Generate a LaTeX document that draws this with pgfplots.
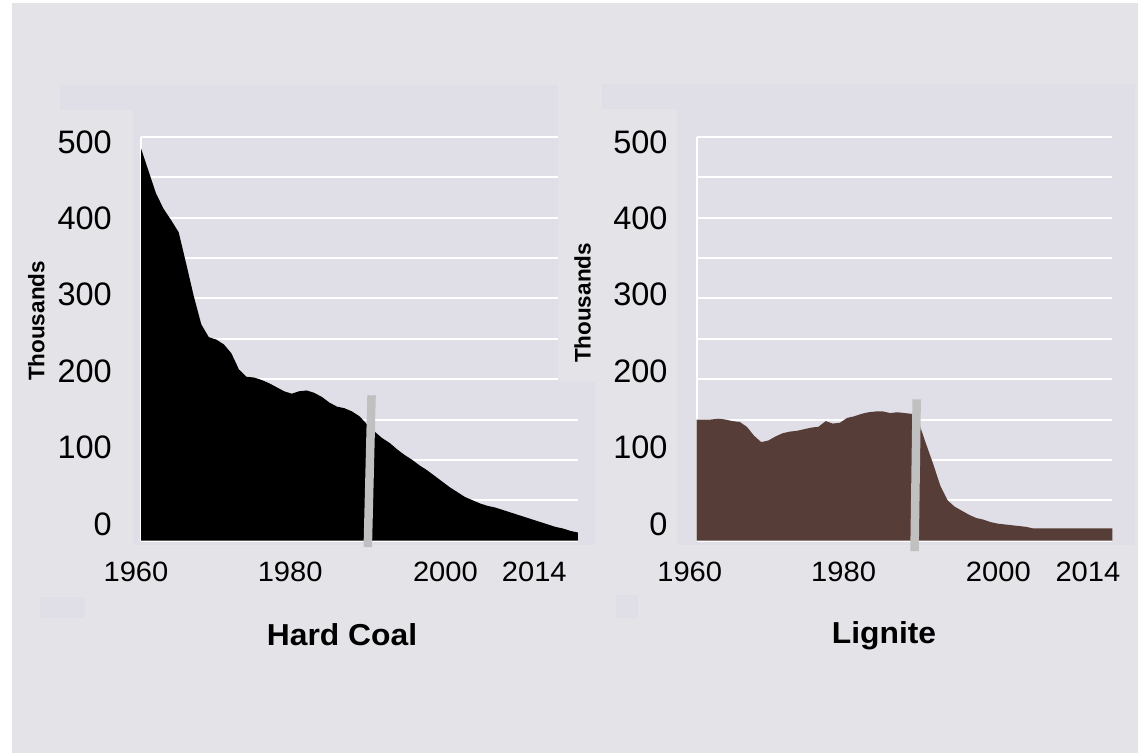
\documentclass[border=0pt]{standalone}
\usepackage{pgfplots}
\pgfplotsset{compat=1.18}
\usepackage{fontspec}
\setmainfont{Liberation Sans}
\newfontfamily\xtickfont{Liberation Sans}[FakeStretch=1.04]
\newfontfamily\titlefont{Liberation Sans}[FakeStretch=1.05]

\definecolor{outerbg}{RGB}{227,227,232}
\definecolor{panelbg}{RGB}{224,223,232}
\definecolor{lignitefill}{RGB}{87,61,56}
\definecolor{reunif}{RGB}{192,192,192}

% Employment in hard coal mining (thousands)
\pgfplotstableread{
year value
1960 486
1961 458
1962 430
1963 411
1964 397
1965 382
1966 343
1967 303
1968 268
1969 252
1970 249
1971 243
1972 232
1973 212
1974 203
1975 202
1976 199
1977 195
1978 190
1979 185
1980 182
1981 185
1982 186
1983 183
1984 178
1985 171
1986 166
1987 164
1988 160
1989 154
1990 144
1991 135
1992 127
1993 121
1994 113
1995 106
1996 100
1997 93
1998 87
1999 80
2000 73
2001 66
2002 60
2003 54
2004 50
2005 46
2006 43
2007 41
2008 38
2009 35
2010 32
2011 29
2012 26
2013 23
2014 20
2015 17
2016 15
2017 12
2018 10
}\hardcoal

% Employment in lignite mining (thousands)
\pgfplotstableread{
year value
1960 150
1961 150
1962 150
1963 151
1964 150
1965 148
1966 147
1967 141
1968 130
1969 122
1970 124
1971 129
1972 133
1973 135
1974 136
1975 138
1976 140
1977 141
1978 148
1979 145
1980 146
1981 152
1982 154
1983 157
1984 159
1985 160
1986 160
1987 158
1988 159
1989 158
1990 157
1991 146
1992 120
1993 95
1994 68
1995 50
1996 42
1997 37
1998 32
1999 28
2000 26
2001 23
2002 21
2003 20
2004 19
2005 18
2006 17
2007 15
2008 15
2009 15
2010 15
2011 15
2012 15
2013 15
2014 15
2015 15
2016 15
2017 15
2018 15
}\lignite

\tikzset{gridline/.style={white, line width=2pt}}

\pgfplotsset{
  coalpanel/.style={
    scale only axis, height=403.6pt,
    xmin=1960, xmax=2018, ymin=0, ymax=500,
    clip=false,
    axis line style={draw=none}, tick style={draw=none},
    % tick labels keep their own spacing, independent of the 50-step grid
    ytick={20.4,115.1,209.8,304.5,399.1,493.8},
    yticklabels={0,100,200,300,400,500},
    yticklabel style={anchor=east, inner sep=0pt, xshift=-29pt,
      font=\fontsize{32.5}{38}\selectfont},
    xticklabel style={anchor=center, inner sep=0pt, yshift=-31.5pt,
      font=\xtickfont\fontsize{28}{33}\selectfont},
    extra x ticks={1960}, extra x tick labels={1960},
  },
}

\begin{document}
\begin{tikzpicture}[x=1pt, y=1pt]
% canvas and panel backgrounds
\fill[white] (0,0) rectangle (1140,754);
\fill[outerbg] (12,1) rectangle (1138,751);
\fill[panelbg] (60,669) -- (558,669) -- (558,372) -- (595,372) -- (595,209)
  -- (133,209) -- (133,644) -- (60,644) -- cycle;
\fill[panelbg] (602,670) -- (1135,670) -- (1135,209) -- (677,209)
  -- (677,645) -- (602,645) -- cycle;
\fill[panelbg] (40,136) rectangle (85,157);
\fill[panelbg] (616,136) rectangle (638,159);

% ---- Hard coal ----
\begin{axis}[coalpanel, at={(141pt,213.4pt)}, anchor=south west, width=437pt,
  xtick={1979.8,2000.4,2012.2},
  xticklabels={1980,2000,2014},
  extra x tick style={xticklabel style={xshift=-5pt}}]
  \pgfplotsinvokeforeach{200,250,...,500}{
    \draw[gridline] (axis cs:1960,#1) -- (axis cs:2015.35,#1);
  }
  \pgfplotsinvokeforeach{50,100,150}{
    \draw[gridline] (axis cs:1960,#1) -- (axis cs:2018,#1);
  }
  \draw[gridline] (axis cs:1960,0) -- (axis cs:2018,0);
  \draw[gridline] (axis cs:1960,0) -- (axis cs:1960,500);
  \addplot[fill=black, draw=none] table[x=year, y=value] {\hardcoal} \closedcycle;
  \addplot[reunif, line width=8.5pt] coordinates {(1990.1,-8) (1990.6,180)};
\end{axis}

% ---- Lignite ----
\begin{axis}[coalpanel, at={(696.7pt,213.4pt)}, anchor=south west, width=415.6pt,
  xtick={1980.5,2002.1,2014.6},
  xticklabels={1980,2000,2014},
  extra x tick style={xticklabel style={xshift=-7pt}}]
  \pgfplotsinvokeforeach{50,100,...,500}{
    \draw[gridline] (axis cs:1960,#1) -- (axis cs:2018,#1);
  }
  \draw[gridline] (axis cs:1960,0) -- (axis cs:2018,0);
  \draw[gridline] (axis cs:1960,0) -- (axis cs:1960,500);
  \addplot[fill=lignitefill, draw=none] table[x=year, y=value] {\lignite} \closedcycle;
  \addplot[reunif, line width=8.5pt] coordinates {(1990.4,-13) (1990.7,175)};
\end{axis}

% axis titles
\node[rotate=90, font=\bfseries\fontsize{22.5}{27}\selectfont]
  at (36.4,433) {Thousands};
\node[rotate=90, font=\bfseries\fontsize{22.5}{27}\selectfont]
  at (582.5,451) {Thousands};
\node[anchor=base, font=\titlefont\bfseries\fontsize{30.3}{36}\selectfont]
  at (342,108) {Hard Coal};
\node[anchor=base, font=\titlefont\bfseries\fontsize{30.3}{36}\selectfont]
  at (884,110) {Lignite};
\end{tikzpicture}
\end{document}
